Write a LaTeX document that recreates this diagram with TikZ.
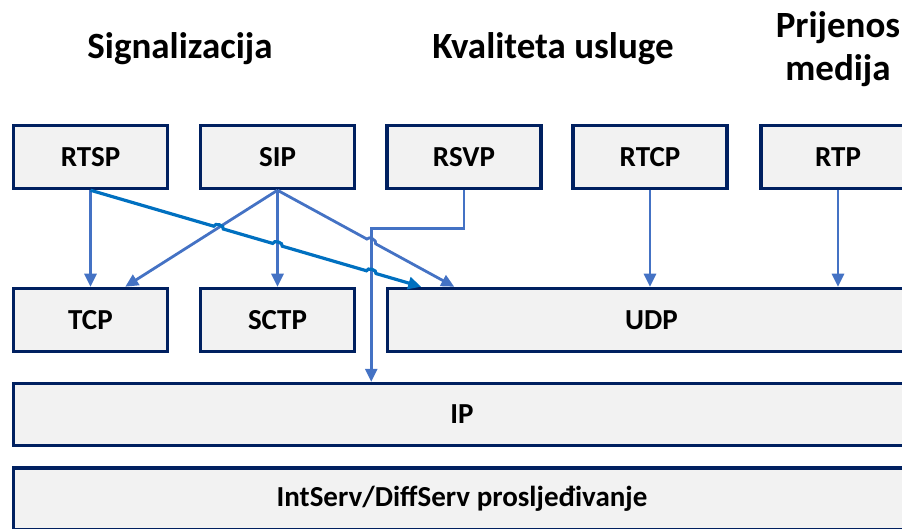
\documentclass[tikz,border=0pt]{standalone}
\usepackage{fontspec}
\setmainfont{Carlito}
\usetikzlibrary{arrows.meta,calc,intersections}

\definecolor{boxline}{RGB}{0,32,96}
\definecolor{boxfill}{RGB}{242,242,242}
\definecolor{arrowlight}{RGB}{68,114,196}
\definecolor{arrowdark}{RGB}{0,112,192}

\tikzset{
  proto/.style={draw=boxline, fill=boxfill, line width=3.5pt, minimum height=63pt,
    minimum width=154pt, inner sep=0pt, font=\fontsize{29}{32}\selectfont\bfseries},
  heading/.style={font=\fontsize{37}{43}\selectfont\bfseries, align=center, inner sep=0pt},
  link/.style={draw=arrowlight, line width=2.8pt, -{Triangle[length=13pt,width=12pt]}},
  linkdark/.style={link, draw=arrowdark, line width=3.2pt},
}

\begin{document}
\begin{tikzpicture}[x=1pt,y=-1pt]
\useasboundingbox (0,0) rectangle (902,529);

% headings
\node[heading, anchor=base] (hsig) at (180,59) {Signalizacija};
\node[heading, anchor=base] (hqos) at (553,59) {Kvaliteta usluge};
\node[heading, anchor=base] (hmed) at (838,81) {Prijenos\\medija};

% application protocols
\node[proto] (rtsp) at (90.5,157) {RTSP};
\node[proto] (sip)  at (277.5,157) {SIP};
\node[proto] (rsvp) at (464,157) {RSVP};
\node[proto] (rtcp) at (650,157) {RTCP};
\node[proto] (rtp)  at (838,157) {RTP};

% transport protocols
\node[proto] (tcp)  at (90.5,320) {TCP};
\node[proto] (sctp) at (277.5,320) {SCTP};
\node[proto, minimum width=528pt] (udp) at (651.5,320) {UDP};

% network and forwarding
\node[proto, minimum width=897pt, minimum height=62pt] (ip) at (462,414.5) {IP};
\node[proto, minimum width=897pt, minimum height=62pt] (fwd) at (462,499) {IntServ/DiffServ prosljeđivanje};

% arrow ends
\coordinate (tcpin) at ($(tcp.north west)+(113.5,0)$);
\coordinate (udpa) at ($(udp.north west)+(35.5,0)$);
\coordinate (udpb) at ($(udp.north west)+(68.5,0)$);
\coordinate (ipin) at ($(ip.north west)+(359.5,0)$);

% crossings
\path[name path=siptcp] (sip.south) -- (tcpin);
\path[name path=sipsctp] (sip.south) -- (sctp.north);
\path[name path=rsvpip] (rsvp.south) -- ++(0,38) -| (ipin);
\path[name path=rtspudp] (rtsp.south) -- (udpa);
\path[name path=sipudp] (sip.south) -- (udpb);
\path[name intersections={of=rtspudp and siptcp, by=h1}];
\path[name intersections={of=rtspudp and sipsctp, by=h2}];
\path[name intersections={of=rtspudp and rsvpip, by=h3}];
\path[name intersections={of=sipudp and rsvpip, by=h4}];

% connectors
\draw[link] (rtsp.south) -- (tcp.north);
\draw[link] (sip.south) -- (tcpin);
\draw[link] (sip.south) -- (sctp.north);
\draw[link] (sip.south) -- ($(h4)!5pt!(sip.south)$) to[bend left=90] ($(h4)!5pt!(udpb)$) -- (udpb);
\draw[link] (rsvp.south) -- ++(0,38) -| (ipin);
\draw[link] (rtcp.south) -- (udp.north -| rtcp.south);
\draw[link] (rtp.south) -- (udp.north -| rtp.south);
\draw[linkdark] (rtsp.south) -- ($(h1)!5pt!(rtsp.south)$) to[bend left=90] ($(h1)!5pt!(udpa)$)
  -- ($(h2)!5pt!(rtsp.south)$) to[bend left=90] ($(h2)!5pt!(udpa)$)
  -- ($(h3)!5pt!(rtsp.south)$) to[bend left=90] ($(h3)!5pt!(udpa)$) -- (udpa);
\end{tikzpicture}
\end{document}
